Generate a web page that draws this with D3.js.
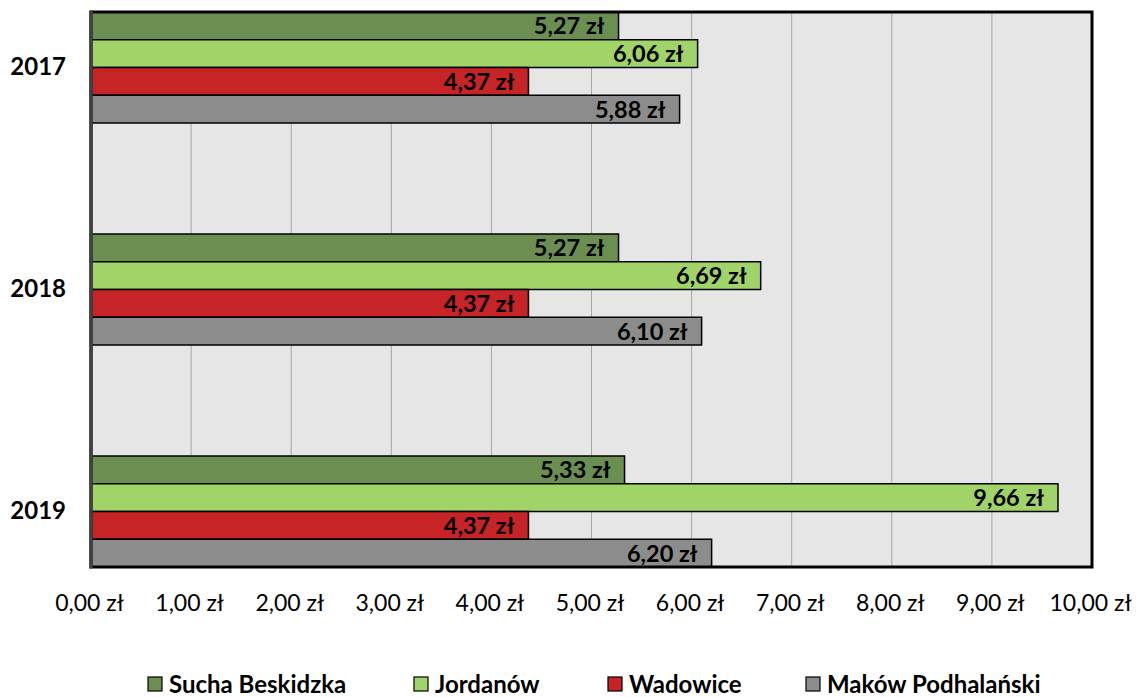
<!DOCTYPE html>
<html><head><meta charset="utf-8">
<script src="https://cdn.jsdelivr.net/npm/d3@7"></script>
<style>body{margin:0;background:#fff}svg{display:block}</style>
</head><body>
<script>
const years = ["2017", "2018", "2019"];
const seriesNames = ["Sucha Beskidzka", "Jordanów", "Wadowice", "Maków Podhalański"];
const seriesColors = ["#6B8F50", "#A0D468", "#C62426", "#8C8C8C"];
const sucha = [5.27, 5.27, 5.33];
const jordanow = [6.06, 6.69, 9.66];
const wadowice = [4.37, 4.37, 4.37];
const makow = [5.88, 6.10, 6.20];
const xTicks = [0,1,2,3,4,5,6,7,8,9,10];

(function() {
const seriesValues = [sucha, jordanow, wadowice, makow];
const W = 1138, H = 697;
const font = "Lato, 'Open Sans', sans-serif";
const fmt = v => v.toFixed(2).replace(".", ",") + " zł";

const svg = d3.select("body").append("svg").attr("width", W).attr("height", H);
const pL = 91, pR = 1092, pT = 12, pB = 567;
const x = d3.scaleLinear().domain([0, 10]).range([pL, pR]);
const y = d3.scaleBand().domain(years).range([pT, pB]).paddingInner(0.5).paddingOuter(0);
const ySub = d3.scaleBand().domain(d3.range(4)).range([0, y.bandwidth()]);

svg.append("rect").attr("x", pL).attr("y", pT).attr("width", pR - pL).attr("height", pB - pT).attr("fill", "#E6E6E6");

svg.append("g").selectAll("line").data(xTicks.slice(1, -1)).join("line")
  .attr("x1", d => x(d)).attr("x2", d => x(d)).attr("y1", pT).attr("y2", pB)
  .attr("stroke", "#A6A6A6").attr("stroke-width", 1);

const groups = svg.append("g").selectAll("g").data(years).join("g")
  .attr("transform", d => `translate(0,${y(d)})`);

groups.each(function(yr, i) {
  const g = d3.select(this);
  seriesValues.forEach((vals, s) => {
    g.append("rect").attr("x", x(0)).attr("y", ySub(s))
      .attr("width", x(vals[i]) - x(0)).attr("height", ySub.bandwidth())
      .attr("fill", seriesColors[s]).attr("stroke", "#000").attr("stroke-width", 1.5);
    g.append("text").attr("x", x(vals[i]) - 14).attr("y", ySub(s) + ySub.bandwidth() / 2)
      .attr("dy", "0.36em").attr("text-anchor", "end")
      .attr("font-family", font).attr("font-weight", "bold").attr("font-size", 23.5)
      .attr("fill", "#000").text(fmt(vals[i]));
  });
});

svg.append("rect").attr("x", pL).attr("y", pT).attr("width", pR - pL).attr("height", pB - pT)
  .attr("fill", "none").attr("stroke", "#000").attr("stroke-width", 3);
svg.append("line").attr("x1", pL).attr("x2", pL).attr("y1", pT - 1.5).attr("y2", pB + 1.5)
  .attr("stroke", "#404040").attr("stroke-width", 3.5);

const xAxis = d3.axisBottom(x).tickValues(xTicks).tickSize(0).tickPadding(0).tickFormat(fmt);
const xg = svg.append("g").attr("transform", `translate(-2,603)`).call(xAxis);
xg.select(".domain").remove();
xg.selectAll("text").attr("font-family", font).attr("font-size", 23).attr("fill", "#000").attr("y", 0).attr("dy", "0.36em");

const yAxis = d3.axisLeft(y).tickSize(0).tickPadding(0);
const yg = svg.append("g").attr("transform", `translate(66,0)`).call(yAxis);
yg.select(".domain").remove();
yg.selectAll("text").attr("font-family", font).attr("font-weight", "bold").attr("font-size", 24).attr("fill", "#000");

const legX = [148, 414, 608, 806];
const leg = svg.append("g").selectAll("g").data(seriesNames).join("g")
  .attr("transform", (d, i) => `translate(${legX[i]},677)`);
leg.append("rect").attr("width", 14).attr("height", 14).attr("fill", (d, i) => seriesColors[i])
  .attr("stroke", "#000").attr("stroke-width", 1.2);
leg.append("text").attr("x", 21).attr("y", 7).attr("dy", "0.36em")
  .attr("font-family", font).attr("font-weight", "bold").attr("font-size", 24).attr("fill", "#000")
  .text(d => d);
})();
</script>
</body></html>
